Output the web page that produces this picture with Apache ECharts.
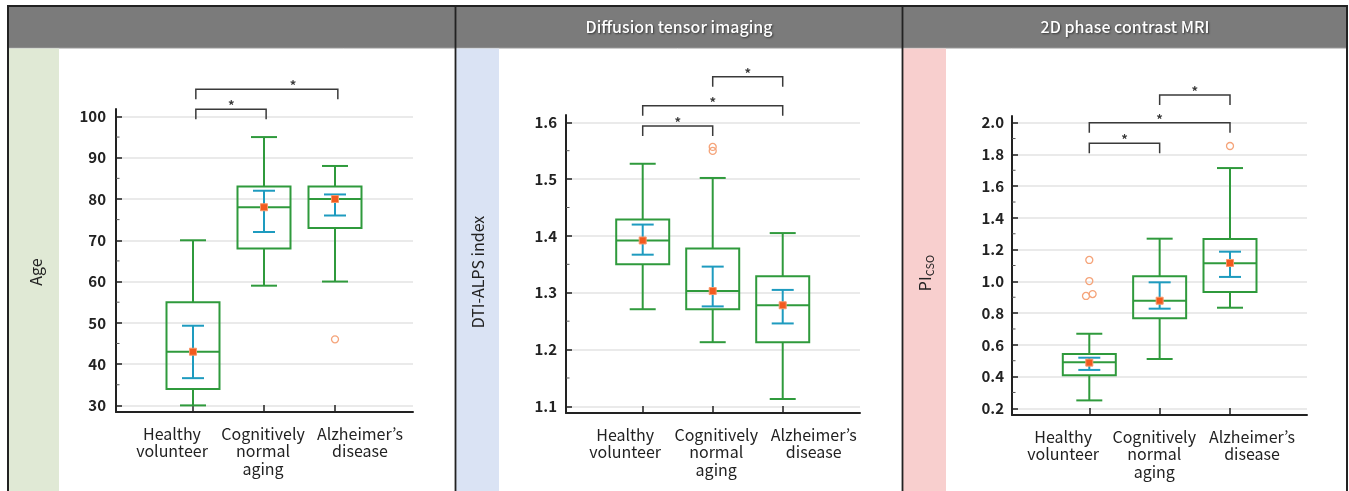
<!DOCTYPE html>
<html><head><meta charset="utf-8">
<script src="https://cdn.jsdelivr.net/npm/echarts@6/dist/echarts.min.js"></script>
<style>html,body{margin:0;padding:0;background:#fff}#c{width:1349px;height:491px}</style>
</head><body><div id="c"></div>
<script>
// ---------- data ----------
const categories = ['Healthy\nvolunteer', 'Cognitively\nnormal\naging', 'Alzheimer\u2019s\ndisease'];
const panelTitles = ['', 'Diffusion tensor imaging', '2D phase contrast MRI'];
const yAxisNames = ['Age', 'DTI-ALPS index', 'PI_CSO'];

// box: [whisker low, Q1, median, Q3, whisker high]
const ageBox = [[30, 34, 43, 55, 70], [59, 68, 78, 83, 95], [60, 73, 80, 83, 88]];
const ageMean = [43, 78, 80];
const ageCI = [[36.6, 49.3], [72, 82], [76, 81.1]];
const ageOutliers = [[3, 46]];
const ageTicks = [30, 40, 50, 60, 70, 80, 90, 100];
const ageMinorTicks = [35, 45, 55, 65, 75, 85, 95];
// [from group, to group, level, star position]
const ageBrackets = [[1.04, 2.03, 101.75, 1.54], [1.04, 3.04, 106.57, 2.41]];

const dtiBox = [[1.271, 1.350, 1.392, 1.429, 1.527], [1.213, 1.271, 1.303, 1.378, 1.502], [1.113, 1.213, 1.278, 1.329, 1.405]];
const dtiMean = [1.392, 1.303, 1.278];
const dtiCI = [[1.367, 1.420], [1.276, 1.346], [1.246, 1.305]];
const dtiOutliers = [[2, 1.5566], [2, 1.5496]];
const dtiTicks = [1.1, 1.2, 1.3, 1.4, 1.5, 1.6];
const dtiMinorTicks = [1.15, 1.25, 1.35, 1.45, 1.55];
const dtiBrackets = [[1, 2, 1.5934, 1.5], [1, 3, 1.6292, 2], [2, 3, 1.6802, 2.5]];

const piBox = [[0.250, 0.408, 0.490, 0.542, 0.670], [0.511, 0.767, 0.878, 1.032, 1.269], [0.834, 0.933, 1.114, 1.267, 1.714]];
const piMean = [0.488, 0.878, 1.116];
const piCI = [[0.442, 0.519], [0.828, 0.994], [1.028, 1.187]];
const piOutliers = [[1, 1.135], [1, 1.002], [0.953, 0.908], [1.047, 0.920], [3, 1.853]];
const piTicks = [0.2, 0.4, 0.6, 0.8, 1.0, 1.2, 1.4, 1.6, 1.8, 2.0];
const piMinorTicks = [0.3, 0.5, 0.7, 0.9, 1.1, 1.3, 1.5, 1.7, 1.9];
const piBrackets = [[1, 2, 1.870, 1.5], [1, 3, 2.0, 2.0], [2, 3, 2.1743, 2.5]];

// ---------- style / layout ----------
const FONT = '"Noto Sans CJK KR", "Noto Sans", sans-serif';
const GREEN = '#2f9a3c', BLUE = '#1e9bbf', MEAN = '#f25a1e', OUT = '#f5a47a', INK = '#222';

const panels = [
  {box: ageBox, mean: ageMean, ci: ageCI, out: ageOutliers, br: ageBrackets, ticks: ageTicks, minor: ageMinorTicks,
   yMin: 28.4, yMax: 101.8, xMin: -0.0845, xMax: 4.0986, labelPos: [0.704, 1.986, 3.352], digits: 0,
   grid: {left: 116, top: 109, width: 297, height: 303}, labelMargin: 10, nameX: 36, nameY: 272},
  {box: dtiBox, mean: dtiMean, ci: dtiCI, out: dtiOutliers, br: dtiBrackets, ticks: dtiTicks, minor: dtiMinorTicks,
   yMin: 1.0884, yMax: 1.6128, xMin: -0.0957, xMax: 4.104, labelPos: [0.750, 2.050, 3.443], digits: 1,
   grid: {left: 566, top: 115, width: 294, height: 298}, labelMargin: 9, nameX: 478, nameY: 272},
  {box: piBox, mean: piMean, ci: piCI, out: piOutliers, br: piBrackets, ticks: piTicks, minor: piMinorTicks,
   yMin: 0.158, yMax: 2.042, xMin: -0.0988, xMax: 4.0945, labelPos: [0.629, 1.923, 3.313], digits: 1,
   grid: {left: 1012, top: 116, width: 295, height: 299}, labelMargin: 8, nameX: 925, nameY: 273}
];

function boxRender(params, api) {
  const x = api.value(0);
  const lo = api.coord([x, api.value(1)]), q1 = api.coord([x, api.value(2)]), md = api.coord([x, api.value(3)]),
        q3 = api.coord([x, api.value(4)]), hi = api.coord([x, api.value(5)]);
  const cx = lo[0], hw = 26.5, cw = 13;
  const st = {stroke: GREEN, lineWidth: 2, fill: 'none'};
  return {type: 'group', children: [
    {type: 'rect', shape: {x: cx - hw, y: q3[1], width: 2 * hw, height: q1[1] - q3[1]}, style: st},
    {type: 'line', shape: {x1: cx - hw, y1: md[1], x2: cx + hw, y2: md[1]}, style: st},
    {type: 'line', shape: {x1: cx, y1: q3[1], x2: cx, y2: hi[1]}, style: st},
    {type: 'line', shape: {x1: cx, y1: q1[1], x2: cx, y2: lo[1]}, style: st},
    {type: 'line', shape: {x1: cx - cw, y1: hi[1], x2: cx + cw, y2: hi[1]}, style: st},
    {type: 'line', shape: {x1: cx - cw, y1: lo[1], x2: cx + cw, y2: lo[1]}, style: st}
  ]};
}
function ciRender(params, api) {
  const x = api.value(0);
  const lo = api.coord([x, api.value(1)]), hi = api.coord([x, api.value(2)]);
  const cx = lo[0], cw = 11;
  const st = {stroke: BLUE, lineWidth: 2, fill: 'none'};
  return {type: 'group', children: [
    {type: 'line', shape: {x1: cx, y1: lo[1], x2: cx, y2: hi[1]}, style: st},
    {type: 'line', shape: {x1: cx - cw, y1: hi[1], x2: cx + cw, y2: hi[1]}, style: st},
    {type: 'line', shape: {x1: cx - cw, y1: lo[1], x2: cx + cw, y2: lo[1]}, style: st}
  ]};
}
function bracketRender(params, api) {
  const a = api.coord([api.value(0), api.value(2)]);
  const b = api.coord([api.value(1), api.value(2)]);
  const s = api.coord([api.value(3), api.value(2)]);
  const leg = 10;
  return {type: 'group', children: [
    {type: 'polyline', shape: {points: [[a[0], a[1] + leg], [a[0], a[1]], [b[0], b[1]], [b[0], b[1] + leg]]},
     style: {stroke: '#3a3a3a', lineWidth: 1.5, fill: 'none'}},
    {type: 'text', x: s[0], y: s[1] - 4, style: {text: '*', fill: '#3a3a3a', font: 'bold 13px ' + FONT, align: 'center', verticalAlign: 'middle'}}
  ]};
}
// short inside minor ticks along the y axis, one per minor value
function minorTickRender(params, api) {
  const p = api.coord([api.value(0), api.value(1)]);
  return {type: 'line', shape: {x1: p[0], y1: p[1], x2: p[0] + 3.5, y2: p[1]}, style: {stroke: '#555', lineWidth: 1}};
}

const grid = [], xAxis = [], yAxis = [], series = [];
panels.forEach((p, i) => {
  grid.push(Object.assign({containLabel: false}, p.grid));
  xAxis.push({
    gridIndex: i, type: 'value', min: p.xMin, max: p.xMax,
    axisLine: {show: true, onZero: false, lineStyle: {color: INK, width: 2}},
    axisTick: {show: true, inside: true, length: 7, customValues: [1, 2, 3], lineStyle: {color: INK, width: 1.5}},
    axisLabel: {
      customValues: p.labelPos, margin: 13, color: INK, fontFamily: FONT, fontSize: 16, lineHeight: 17.5, align: 'center',
      formatter: v => {
        let k = 0, d = Infinity;
        p.labelPos.forEach((q, j) => { if (Math.abs(q - v) < d) { d = Math.abs(q - v); k = j; } });
        return categories[k];
      }
    },
    splitLine: {show: false}
  });
  yAxis.push({
    gridIndex: i, type: 'value', min: p.yMin, max: p.yMax,
    axisLine: {show: true, onZero: false, lineStyle: {color: INK, width: 2}},
    axisTick: {show: true, inside: true, length: 6, customValues: p.ticks, lineStyle: {color: INK, width: 1.5}},
    axisLabel: {customValues: p.ticks, margin: p.labelMargin, color: INK, fontFamily: FONT, fontSize: 15, fontWeight: 'bold',
      formatter: v => Number(v).toFixed(p.digits)},
    splitLine: {show: true, lineStyle: {color: '#e3e3e3', width: 1.5}}
  });
  series.push({
    type: 'custom', xAxisIndex: i, yAxisIndex: i, renderItem: boxRender, z: 2,
    encode: {x: 0, y: [1, 2, 3, 4, 5]},
    data: p.box.map((b, j) => [j + 1].concat(b))
  });
  series.push({
    type: 'custom', xAxisIndex: i, yAxisIndex: i, renderItem: ciRender, z: 3,
    encode: {x: 0, y: [1, 2]},
    data: p.ci.map((c, j) => [j + 1, c[0], c[1]])
  });
  series.push({
    type: 'scatter', xAxisIndex: i, yAxisIndex: i, z: 4, symbol: 'rect', symbolSize: 7,
    itemStyle: {color: MEAN, borderColor: '#f7976a', borderWidth: 1, opacity: 1},
    data: p.mean.map((m, j) => [j + 1, m])
  });
  series.push({
    type: 'scatter', xAxisIndex: i, yAxisIndex: i, z: 4, symbol: 'circle', symbolSize: 7,
    itemStyle: {color: 'rgba(0,0,0,0)', borderColor: OUT, borderWidth: 1.3, opacity: 1},
    data: p.out
  });
  series.push({
    type: 'custom', xAxisIndex: i, yAxisIndex: i, renderItem: bracketRender, z: 5, clip: false,
    encode: {x: [0, 1], y: 2},
    data: p.br
  });
  series.push({
    type: 'custom', xAxisIndex: i, yAxisIndex: i, renderItem: minorTickRender, z: 6, clip: false, silent: true,
    encode: {x: 0, y: 1},
    data: p.minor.map(v => [p.xMin, v])
  });
});

// ---------- frame graphics ----------
const graphic = [
  {type: 'rect', z: -10, shape: {x: 8, y: 6, width: 1339, height: 500}, style: {fill: '#fff', stroke: '#222', lineWidth: 2}},
  {type: 'rect', z: -9, shape: {x: 9, y: 7, width: 1337, height: 41}, style: {fill: '#7b7b7b'}},
  {type: 'line', z: -9, shape: {x1: 9, y1: 48, x2: 1346, y2: 48}, style: {stroke: '#9a9a9a', lineWidth: 1}},
  {type: 'rect', z: -9, shape: {x: 9, y: 48.5, width: 50, height: 450}, style: {fill: '#e0e9d5'}},
  {type: 'rect', z: -9, shape: {x: 456, y: 48.5, width: 43, height: 450}, style: {fill: '#dae3f4'}},
  {type: 'rect', z: -9, shape: {x: 903, y: 48.5, width: 43, height: 450}, style: {fill: '#f8cfce'}},
  {type: 'line', z: -8, shape: {x1: 455.5, y1: 6, x2: 455.5, y2: 491}, style: {stroke: '#222', lineWidth: 1.8}},
  {type: 'line', z: -8, shape: {x1: 902.5, y1: 6, x2: 902.5, y2: 491}, style: {stroke: '#222', lineWidth: 1.8}}
];
const headerCenters = [232, 679, 1125];
panelTitles.forEach((t, i) => {
  if (!t) return;
  graphic.push({type: 'text', z: 10, x: headerCenters[i], y: 27,
    style: {text: t, fill: '#fff', font: '500 16px ' + FONT, align: 'center', verticalAlign: 'middle',
      textShadowColor: 'rgba(0,0,0,0.55)', textShadowBlur: 2, textShadowOffsetX: 1, textShadowOffsetY: 1}});
});
yAxisNames.forEach((n, i) => {
  const p = panels[i];
  const parts = n.split('_');
  const text = parts.length > 1 ? '{a|' + parts[0] + '}{b|' + parts[1] + '}' : '{a|' + n + '}';
  graphic.push({type: 'text', z: 10, x: p.nameX, y: p.nameY, rotation: Math.PI / 2,
    style: {text: text, align: 'center', verticalAlign: 'middle',
      rich: {a: {fontFamily: FONT, fontSize: 16, fill: INK, color: INK},
             b: {fontFamily: FONT, fontSize: 11, fill: INK, color: INK, padding: [9, 0, 0, 0]}}}});
});

const chart = echarts.init(document.getElementById('c'), null, {renderer: 'canvas'});
chart.setOption({animation: false, backgroundColor: '#fff', textStyle: {fontFamily: FONT}, grid, xAxis, yAxis, series, graphic});
</script></body></html>
